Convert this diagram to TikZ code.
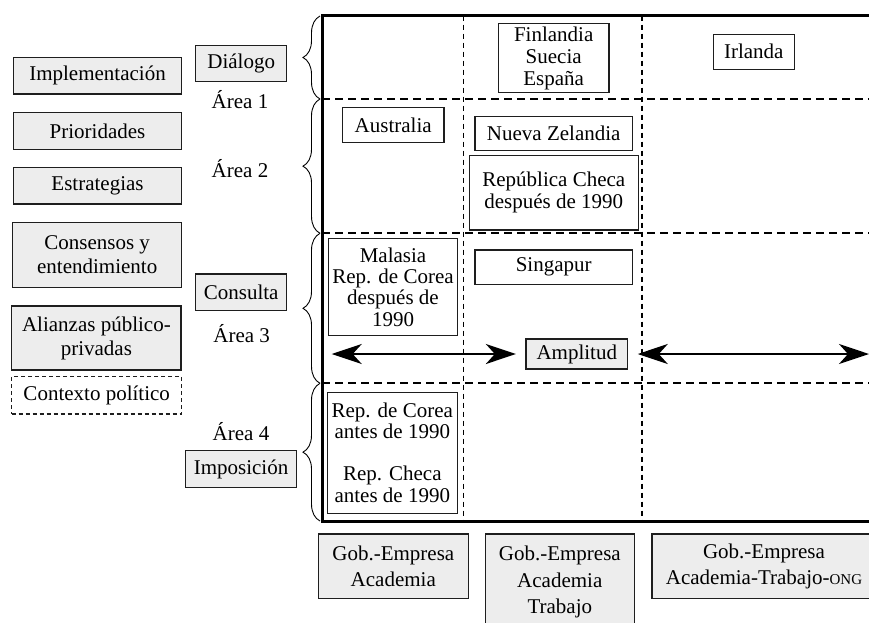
\documentclass[tikz,border=0pt]{standalone}
\usepackage{fontspec}
\setmainfont{Liberation Serif}
\usetikzlibrary{arrows.meta,decorations.pathreplacing}
\definecolor{boxgray}{RGB}{237,237,237}
\definecolor{linegray}{RGB}{30,30,30}
\tikzset{
  lbl/.style={font=\fontsize{21}{22}\selectfont, inner sep=0pt, align=center},
  sz/.style 2 args={minimum width=#1pt, minimum height=#2pt},
  gbox/.style={lbl, draw=linegray, line width=1.2pt, fill=boxgray},
  wbox/.style={lbl, draw=linegray, line width=1.2pt, fill=white},
  dbox/.style={lbl, draw=linegray, line width=1.1pt, dash pattern=on 4pt off 3pt},
  bbox/.style={gbox, font=\fontsize{21}{26.5}\selectfont},
  hdash/.style={line width=2pt, dash pattern=on 7.5pt off 5.5pt},
  vdash/.style={line width=1.3pt, dash pattern=on 5pt off 4pt},
  bracestyle/.style={decorate, decoration={brace, amplitude=17pt, aspect=0.5}, line width=0.9pt},
  dblarrow/.style={line width=2.7pt, {Stealth[length=30pt, width=20pt, inset=9pt]}-{Stealth[length=30pt, width=20pt, inset=9pt]}},
}
\begin{document}
\begin{tikzpicture}[x=1pt, y=-1pt]
\path[use as bounding box, clip] (0,0) rectangle (869,622);

% left column
\node[gbox, sz={168.4}{36.7}] (impl) at (97.5,75.7) {Implementación};
\node[gbox, sz={168.4}{36.6}] (prio) at (97.5,131) {Prioridades};
\node[gbox, sz={168.4}{36.7}] (estr) at (97.5,185.7) {Estrategias};
\node[gbox, sz={169}{64.6}, font=\fontsize{21}{24}\selectfont] (cons) at (97.2,255) {Consensos y\\entendimiento};
\node[gbox, sz={169.3}{64}, font=\fontsize{21}{24}\selectfont] (alia) at (96.4,338) {Alianzas público-\\privadas};
\node[dbox, sz={170}{37.3}] (ctx) at (96.7,395.3) {Contexto político};

% middle labels
\node[gbox, sz={91}{36.4}] (dial) at (241.2,63.5) {Diálogo};
\node[lbl] (a1) at (240,100) {Área 1};
\node[lbl] (a2) at (240,168.3) {Área 2};
\node[gbox, sz={91}{36.7}] (consu) at (241.2,292.3) {Consulta};
\node[lbl] (a3) at (241.7,333.3) {Área 3};
\node[lbl] (a4) at (241,431.7) {Área 4};
\node[gbox, sz={111.4}{36.6}] (impo) at (241,469) {Imposición};

% braces
\draw[bracestyle] (320,99) -- (320,16);
\draw[bracestyle] (320,233.3) -- (320,99);
\draw[bracestyle] (320,383.3) -- (320,233.3);
\draw[bracestyle] (320,521) -- (320,383.3);

% grid
\draw[hdash] (322,99) -- (880,99);
\draw[hdash] (322,233.3) -- (880,233.3);
\draw[hdash] (322,383.3) -- (880,383.3);
\draw[vdash] (463.3,15.5) -- (463.3,521);
\draw[vdash] (642,15.5) -- (642,521);
\draw[line width=3pt] (880,15.5) -- (322,15.5) -- (322,521) -- (880,521);

% countries
\node[wbox, sz={110.7}{69.4}] (finl) at (553.7,58) {Finlandia\\Suecia\\España};
\node[wbox, sz={81}{35}] (irl) at (753.8,51.8) {Irlanda};
\node[wbox, sz={101.7}{34.6}] (aus) at (393.2,125) {Australia};
\node[wbox, sz={157.3}{34}] (nz) at (553.7,133.7) {Nueva Zelandia};
\node[wbox, sz={169}{74.3}] (rch) at (553.8,192.8) {República Checa\\después de 1990};
\node[wbox, sz={129.4}{97}, font=\fontsize{21}{21.2}\selectfont] (mal) at (393,287.2) {Malasia\\Rep. de Corea\\después de\\1990};
\node[wbox, sz={157.3}{34.3}] (sing) at (553.7,267.2) {Singapur};
\node[gbox, sz={101.7}{30}] (ampl) at (576.8,354) {Amplitud};
\node[wbox, sz={130}{121}, font=\fontsize{21}{21.5}\selectfont] (rco) at (392.3,452.8) {Rep. de Corea\\antes de 1990\\[20.5pt]Rep. Checa\\antes de 1990};

% arrows
\coordinate (l1) at (331.7,354);
\coordinate (r1) at (869,354);
\draw[dblarrow] (l1) -- ([xshift=-9.5pt]ampl.west);
\draw[dblarrow] ([xshift=9.5pt]ampl.east) -- (r1);

% bottom boxes
\node[bbox, sz={150}{64.3}] (b1) at (393.3,566.2) {Gob.-Empresa\\Academia};
\node[bbox, sz={149}{96}] (b2) at (559.8,582) {Gob.-Empresa\\Academia\\Trabajo};
\node[bbox, sz={224}{64.3}] (b3) at (764,566.2) {Gob.-Empresa\\Academia-Trabajo-{\fontsize{15}{15}\selectfont ONG}};
\end{tikzpicture}
\end{document}
